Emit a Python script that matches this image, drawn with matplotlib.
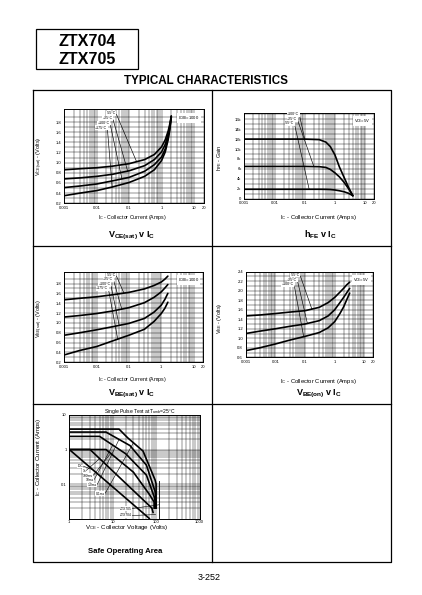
import matplotlib
matplotlib.use('Agg')
import matplotlib.pyplot as plt
from matplotlib.ticker import FixedLocator, NullFormatter
import numpy as np

plt.rcParams['font.family'] = ['Liberation Sans', 'DejaVu Sans']
plt.rcParams['mathtext.fontset'] = 'custom'
plt.rcParams['mathtext.rm'] = 'Liberation Sans'
plt.rcParams['mathtext.bf'] = 'Liberation Sans:bold'

# ---- data ----
ic_vce = [0.001, 0.003, 0.01, 0.03, 0.1, 0.3, 0.6, 1.0, 1.3, 1.6, 1.8, 2.0]
vce_m55 = [0.86, 0.88, 0.90, 0.93, 0.98, 1.06, 1.16, 1.31, 1.45, 1.62, 1.76, 1.92]
vce_25 = [0.68, 0.70, 0.73, 0.77, 0.84, 0.94, 1.06, 1.21, 1.36, 1.56, 1.72, 1.90]
vce_100 = [0.51, 0.54, 0.58, 0.64, 0.71, 0.83, 0.96, 1.11, 1.27, 1.50, 1.68, 1.90]
vce_175 = [0.35, 0.40, 0.45, 0.52, 0.61, 0.73, 0.86, 1.04, 1.21, 1.45, 1.65, 1.91]

ic_hfe = [0.001, 0.01, 0.1, 0.3, 0.5, 0.7, 1.0, 1.4, 2.0, 2.9, 3.9]
hfe_100 = [12000, 12000, 12000, 11900, 11400, 10500, 8800, 6400, 4300, 2100, 600]
hfe_25 = [6500, 6500, 6500, 6450, 6300, 5900, 5200, 4400, 3300, 1900, 600]
hfe_m55 = [1900, 1900, 1900, 1900, 1880, 1850, 1750, 1600, 1400, 1050, 600]

ic_vbes = [0.001, 0.003, 0.01, 0.03, 0.1, 0.3, 0.6, 1.0, 1.3, 1.6]
vbes_m55 = [1.47, 1.50, 1.53, 1.57, 1.62, 1.69, 1.76, 1.83, 1.89, 1.95]
vbes_25 = [1.12, 1.15, 1.19, 1.24, 1.31, 1.41, 1.52, 1.63, 1.71, 1.78]
vbes_100 = [0.75, 0.80, 0.86, 0.92, 0.99, 1.09, 1.22, 1.36, 1.48, 1.60]
vbes_175 = [0.35, 0.44, 0.52, 0.63, 0.75, 0.87, 1.03, 1.19, 1.30, 1.42]

ic_vbeon = [0.001, 0.003, 0.01, 0.03, 0.1, 0.3, 0.6, 1.0, 1.5, 2.0, 2.5, 3.2]
vbeon_m55 = [1.47, 1.49, 1.52, 1.55, 1.58, 1.65, 1.75, 1.86, 1.97, 2.05, 2.12, 2.18]
vbeon_25 = [1.10, 1.15, 1.20, 1.25, 1.30, 1.37, 1.47, 1.60, 1.75, 1.86, 1.95, 2.05]
vbeon_100 = [0.74, 0.80, 0.88, 0.96, 1.04, 1.12, 1.22, 1.35, 1.52, 1.66, 1.80, 1.95]

# safe operating area (volts, amps)
soa_v = {
    '0.1ms': [1, 14, 22, 50, 95, 100, 100],
    '1.0ms': [1, 7, 25, 60, 95, 98, 98],
    '10ms': [1, 5, 20, 60, 92, 95, 95],
    '100ms': [1, 7, 30, 70, 90, 90],
    '1s': [1, 3, 25, 80, 85],
    'D.C': [1, 70],
}
soa_i = {
    '0.1ms': [3.9, 3.9, 2.2, 0.9, 0.13, 0.1, 0.02],
    '1.0ms': [3.2, 3.2, 1.3, 0.35, 0.06, 0.04, 0.02],
    '10ms': [2.4, 2.4, 0.75, 0.18, 0.04, 0.03, 0.02],
    '100ms': [1.0, 1.0, 0.22, 0.05, 0.03, 0.02],
    '1s': [1.0, 1.0, 0.08, 0.02, 0.015],
    'D.C': [1.0, 0.01],
}
soa_label_pos = {'D.C': (83, 466), '1s': (86, 470.7), '100ms': (93, 475.7),
                 '10ms': (94, 480), '1.0ms': (97, 485), '0.1ms': (105, 493.7)}
soa_label_to = {'D.C': 3.5, '1s': 5, '100ms': 9, '10ms': 10, '1.0ms': 14, '0.1ms': 30}

xticks_ic = [0.001, 0.01, 0.1, 1, 10, 20]
xlabels_ic = ['0.001', '0.01', '0.1', '1', '10', '20']

W, H = 422, 595
fig = plt.figure(figsize=(W / 100, H / 100), dpi=100)
page = fig.add_axes([0, 0, 1, 1])
page.set_xlim(0, W)
page.set_ylim(H, 0)
page.axis('off')


def add_ax(x0, y0, x1, y1):
    return fig.add_axes([x0 / W, 1 - y1 / H, (x1 - x0) / W, (y1 - y0) / H])


def ic_axes(ax, ylim, yticks, ylabels, yminor):
    ax.set_xscale('log')
    ax.set_xlim(0.001, 20)
    ax.set_ylim(*ylim)
    ax.xaxis.set_major_locator(FixedLocator(xticks_ic))
    ax.set_xticklabels(xlabels_ic)
    minors = [m * 10.0 ** e for e in range(-3, 1) for m in range(2, 10)] + [20]
    ax.xaxis.set_minor_locator(FixedLocator(minors))
    ax.xaxis.set_minor_formatter(NullFormatter())
    ax.set_yticks(yticks)
    ax.set_yticklabels(ylabels)
    ax.yaxis.set_minor_locator(FixedLocator(yminor))
    ax.grid(which='both', color='black', lw=0.3)
    ax.tick_params(which='both', length=0, labelsize=3, pad=2)
    for s in ax.spines.values():
        s.set_linewidth(0.7)


def label_curves(ax, items, fs=2.6):
    for txt, (px, py), xy in items:
        ax.annotate(txt, xy=xy, xytext=(px, py), textcoords=page.transData,
                    fontsize=fs, ha='right', va='center', annotation_clip=False,
                    bbox=dict(fc='white', ec='none', pad=0.3),
                    arrowprops=dict(arrowstyle='-', lw=0.45, color='black',
                                    shrinkA=0, shrinkB=0, relpos=(1, 0.5)))


def on_curve(xs, ys, x):
    return (x, float(np.interp(np.log10(x), np.log10(xs), ys)))


curve_kw = dict(color='black', lw=1.2, solid_capstyle='round')

# ---- VCE(sat) v IC ----
ax1 = add_ax(64.3, 109.3, 203.7, 203.3)
ic_axes(ax1, (0.2, 2.05), np.arange(0.2, 1.81, 0.2),
        ['0.2', '0.4', '0.6', '0.8', '1.0', '1.2', '1.4', '1.6', '1.8'],
        np.arange(0.3, 2.0, 0.2))
for ys in (vce_m55, vce_25, vce_100, vce_175):
    ax1.plot(ic_vce, ys, **curve_kw)
label_curves(ax1, [
    ('-55°C', (116, 113.3), on_curve(ic_vce, vce_m55, 0.17)),
    ('+25°C', (112.7, 118.3), on_curve(ic_vce, vce_25, 0.09)),
    ('+100°C', (110, 123.3), on_curve(ic_vce, vce_100, 0.06)),
    ('+175°C', (107.3, 127.7), on_curve(ic_vce, vce_175, 0.03)),
])
ax1.text(0.97, 0.95, 'I$_\\mathregular{C}$/I$_\\mathregular{B}$=1000', transform=ax1.transAxes,
         fontsize=3, ha='right', va='top', bbox=dict(fc='white', ec='none', pad=0.8))

# ---- hFE v IC ----
ax2 = add_ax(244.3, 113.3, 374.3, 198.7)
ic_axes(ax2, (0, 17200), np.arange(0, 16001, 2000),
        ['0', '2k', '4k', '6k', '8k', '10k', '12k', '14k', '16k'],
        np.arange(1000, 17001, 2000))
for ys in (hfe_100, hfe_25, hfe_m55):
    ax2.plot(ic_hfe, ys, **curve_kw)
label_curves(ax2, [
    ('+100°C', (299.3, 114.3), on_curve(ic_hfe, hfe_100, 0.1)),
    ('+25°C', (297.3, 119.3), on_curve(ic_hfe, hfe_25, 0.2)),
    ('-55°C', (294.3, 123.3), on_curve(ic_hfe, hfe_m55, 0.14)),
])
ax2.text(0.97, 0.95, 'V$_\\mathregular{CE}$=5V', transform=ax2.transAxes,
         fontsize=3, ha='right', va='top', bbox=dict(fc='white', ec='none', pad=0.8))

# ---- VBE(sat) v IC ----
ax3 = add_ax(64.3, 271.7, 203.3, 362.3)
ic_axes(ax3, (0.2, 2.04), np.arange(0.2, 1.81, 0.2),
        ['0.2', '0.4', '0.6', '0.8', '1.0', '1.2', '1.4', '1.6', '1.8'],
        np.arange(0.3, 2.0, 0.2))
for ys in (vbes_m55, vbes_25, vbes_100, vbes_175):
    ax3.plot(ic_vbes, ys, **curve_kw)
label_curves(ax3, [
    ('-55°C', (116, 275), on_curve(ic_vbes, vbes_m55, 0.07)),
    ('+25°C', (113.3, 279.3), on_curve(ic_vbes, vbes_25, 0.06)),
    ('+100°C', (110.7, 284.3), on_curve(ic_vbes, vbes_100, 0.05)),
    ('+175°C', (108.3, 288.3), on_curve(ic_vbes, vbes_175, 0.045)),
])
ax3.text(0.97, 0.95, 'I$_\\mathregular{C}$/I$_\\mathregular{B}$=1000', transform=ax3.transAxes,
         fontsize=3, ha='right', va='top', bbox=dict(fc='white', ec='none', pad=0.8))

# ---- VBE(on) v IC ----
ax4 = add_ax(245.7, 271.7, 373.3, 357.3)
ic_axes(ax4, (0.6, 2.4), np.arange(0.6, 2.41, 0.2),
        ['0.6', '0.8', '1.0', '1.2', '1.4', '1.6', '1.8', '2.0', '2.2', '2.4'],
        np.arange(0.7, 2.4, 0.2))
for ys in (vbeon_m55, vbeon_25, vbeon_100):
    ax4.plot(ic_vbeon, ys, **curve_kw)
label_curves(ax4, [
    ('-55°C', (300, 275), on_curve(ic_vbeon, vbeon_m55, 0.17)),
    ('+25°C', (297.3, 280), on_curve(ic_vbeon, vbeon_25, 0.12)),
    ('+100°C', (294, 284.3), on_curve(ic_vbeon, vbeon_100, 0.09)),
])
ax4.text(0.97, 0.95, 'V$_\\mathregular{CE}$=5V', transform=ax4.transAxes,
         fontsize=3, ha='right', va='top', bbox=dict(fc='white', ec='none', pad=0.8))

# ---- Safe Operating Area ----
ax5 = add_ax(69.3, 415, 199.5, 518.5)
ax5.set_xscale('log')
ax5.set_yscale('log')
ax5.set_xlim(1, 1000)
ax5.set_ylim(0.01, 10)
ax5.xaxis.set_major_locator(FixedLocator([1, 10, 100, 1000]))
ax5.set_xticklabels(['1', '10', '100', '1000'])
ax5.yaxis.set_major_locator(FixedLocator([0.1, 1, 10]))
ax5.set_yticklabels(['0.1', '1', '10'])
ax5.xaxis.set_minor_locator(FixedLocator([m * 10.0 ** e for e in range(0, 3) for m in range(2, 10)]))
ax5.yaxis.set_minor_locator(FixedLocator([m * 10.0 ** e for e in range(-2, 1) for m in range(2, 10)]))
ax5.xaxis.set_minor_formatter(NullFormatter())
ax5.yaxis.set_minor_formatter(NullFormatter())
ax5.grid(which='both', color='black', lw=0.3)
ax5.tick_params(which='both', length=0, labelsize=3, pad=2)
ax5.tick_params(axis='x', pad=0.8)
for s in ax5.spines.values():
    s.set_linewidth(0.7)
for key in soa_v:
    ax5.plot(soa_v[key], soa_i[key], color='black', lw=1.2)
ax5.plot([117, 117], [0.12, 0.01], color='black', lw=0.6)
for key, (px, py) in soa_label_pos.items():
    xs, ys = soa_v[key], soa_i[key]
    tx = soa_label_to[key]
    n = 2 if key == 'D.C' else 4
    ty = 10 ** float(np.interp(np.log10(tx), np.log10(xs[:n]), np.log10(ys[:n])))
    ax5.annotate(key, xy=(tx, ty), xytext=(px, py), textcoords=page.transData,
                 fontsize=2.4, ha='right', va='center', annotation_clip=False,
                 bbox=dict(fc='white', ec='none', pad=0.2),
                 arrowprops=dict(arrowstyle='-', lw=0.4, color='black',
                                 shrinkA=0, shrinkB=0, relpos=(1, 0.5)))
for txt, (px, py), xy in [('ZTX705', (132, 508.5), (117, 0.025)),
                          ('ZTX704', (132, 515.5), (98, 0.013))]:
    ax5.annotate(txt, xy=xy, xytext=(px, py), textcoords=page.transData,
                 fontsize=2.4, ha='right', va='center', annotation_clip=False,
                 bbox=dict(fc='white', ec='none', pad=0.2),
                 arrowprops=dict(arrowstyle='-', lw=0.4, color='black',
                                 shrinkA=0, shrinkB=0, relpos=(1, 0.5)))

# ---- page furniture ----
page.add_patch(plt.Rectangle((36, 29), 102, 40, fill=False, lw=0.9, ec='black'))
page.text(87, 41, 'ZTX704', fontsize=11.6, weight='bold', ha='center', va='center')
page.text(87, 59, 'ZTX705', fontsize=11.6, weight='bold', ha='center', va='center')
page.text(206, 81.5, 'TYPICAL CHARACTERISTICS', fontsize=8.4, weight='bold',
          ha='center', va='center')

frame_kw = dict(color='black', lw=0.9)
page.plot([33, 391, 391, 33, 33], [89.7, 89.7, 561.7, 561.7, 89.7], **frame_kw)
page.plot([212.3, 212.3], [89.7, 561.7], **frame_kw)
page.plot([33, 391], [246, 246], **frame_kw)
page.plot([33, 391], [404.3, 404.3], **frame_kw)

page.text(40, 156, 'V$_\\mathregular{CE(sat)}$ - (Volts)', fontsize=4, rotation=90,
          ha='center', va='center')
page.text(220, 158, 'h$_\\mathregular{FE}$ - Gain', fontsize=4, rotation=90,
          ha='center', va='center')
page.text(40, 318, 'V$_\\mathregular{BE(sat)}$ - (Volts)', fontsize=4, rotation=90,
          ha='center', va='center')
page.text(220, 318, 'V$_\\mathregular{BE}$ - (Volts)', fontsize=4, rotation=90,
          ha='center', va='center')
page.text(38.3, 456.7, 'I$_\\mathregular{C}$ - Collector Current (Amps)', fontsize=4.3,
          rotation=90, ha='center', va='center')

page.text(132, 217.3, 'I$_\\mathregular{C}$ - Collector Current (Amps)', fontsize=3.8,
          ha='center', va='center')
page.text(318, 217.3, 'I$_\\mathregular{C}$ - Collector Current (Amps)', fontsize=4.2,
          ha='center', va='center')
page.text(132, 380, 'I$_\\mathregular{C}$ - Collector Current (Amps)', fontsize=3.8,
          ha='center', va='center')
page.text(318, 381.7, 'I$_\\mathregular{C}$ - Collector Current (Amps)', fontsize=4.2,
          ha='center', va='center')
page.text(126.7, 527.5, 'V$_\\mathregular{CE}$ - Collector Voltage (Volts)', fontsize=4.4,
          ha='center', va='center')
page.text(140, 411.5, 'Single Pulse Test at T$_\\mathregular{amb}$=25°C', fontsize=3.6,
          ha='center', va='center')

title_kw = dict(fontsize=6.5, weight='bold', ha='center', va='center')
page.text(131.7, 235.7, 'V$_\\mathregular{CE(sat)}$ v I$_\\mathregular{C}$', **title_kw)
page.text(320, 234.3, 'h$_\\mathregular{FE}$ v I$_\\mathregular{C}$', **title_kw)
page.text(131.7, 394, 'V$_\\mathregular{BE(sat)}$ v I$_\\mathregular{C}$', **title_kw)
page.text(319.3, 394.3, 'V$_\\mathregular{BE(on)}$ v I$_\\mathregular{C}$', **title_kw)
page.text(125, 551.7, 'Safe Operating Area', fontsize=5.6, weight='bold',
          ha='center', va='center')

page.text(209, 578, '3-252', fontsize=6.5, ha='center', va='center')

fig.savefig('out.png', dpi=100)
